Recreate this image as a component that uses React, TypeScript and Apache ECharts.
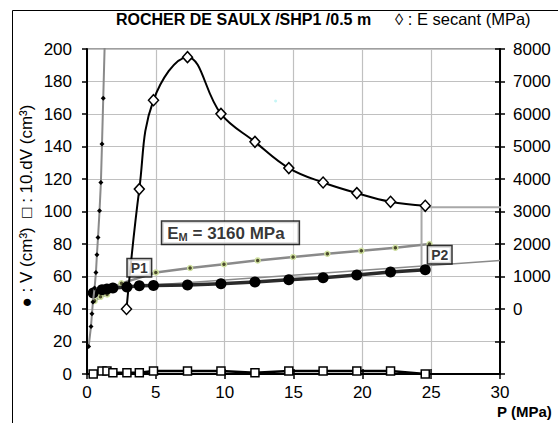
import React, { useEffect, useRef } from "react";
import * as echarts from "echarts";

// ---- data ----
// Pressures (MPa) of the loading stages
const P_STAGE = [0.45, 1.09, 1.45, 1.88, 2.9, 3.8, 4.83, 7.3, 9.73, 12.2, 14.66, 17.15, 19.6, 22.05, 24.57];
// V (cm3), filled circles
const V = [49.8, 51.8, 52.3, 52.9, 53.6, 54.3, 54.5, 54.8, 55.5, 56.6, 58.0, 59.2, 60.9, 62.8, 64.1];
// 10.dV (cm3), open squares
const DV = [0, 1.8, 1.8, 0.7, 0.7, 0.7, 1.8, 1.8, 1.8, 0.7, 1.8, 1.8, 1.8, 1.8, 0];
// E secant (MPa), diamonds (right axis)
const P_E = [2.87, 3.8, 4.83, 7.3, 9.73, 12.2, 14.66, 17.15, 19.6, 22.05, 24.57];
const E_SEC = [0, 3690, 6425, 7750, 6004, 5143, 4335, 3892, 3566, 3299, 3176];
// calibration / steep curve (gray line with small black markers)
const P_STEEP = [0.12, 0.29, 0.36, 0.43, 0.55, 0.65, 0.72, 0.8, 0.91, 1.01, 1.09, 1.18, 1.34];
const V_STEEP = [17, 29.3, 37.1, 44.3, 52.9, 62.5, 73.4, 84, 100.4, 117.8, 141.5, 169.7, 220];
// gray line with small green dots
const P_CORR = [0.55, 0.98, 1.46, 1.97, 2.5, 5.0, 7.49, 9.95, 12.4, 14.97, 17.46, 19.93, 22.4, 24.88];
const V_CORR = [45, 47.5, 49, 53.5, 55.8, 62.5, 65.2, 67.6, 69.9, 72, 74, 75.8, 77.7, 80];
// pseudo-elastic fit line from P1 onwards
const P_FIT = [2.9, 30];
const V_FIT = [53.6, 69.9];
// E_M guide lines
const E_M = 3160;
const P_GUIDE = [24.3, 24.3, 30.9];
const V_GUIDE = [65, 102.6, 102.6];
// annotation anchors
const P_LABELS = [10.42, 3.8, 25.62];
const V_LABELS = [86.9, 65.4, 73.4];
const LABEL_TEXTS = ["EM", "P1", "P2"];
// stray point
const P_DOT = [13.7];
const V_DOT = [168];

const X_TICKS = { min: 0, max: 30, interval: 5 };
const YL_TICKS = { min: 0, max: 200, interval: 20 };
const YR_TICKS = { min: -2000, max: 8000, interval: 1000 };

const zip = (a: number[], b: number[]) => a.map((x, i) => [x, b[i]]);

const FONT = 'Arial, "Liberation Sans", sans-serif';

export default function App() {
  const ref = useRef<HTMLDivElement>(null);
  useEffect(() => {
    document.body.style.margin = "0";
    const chart = echarts.init(ref.current!, null, { renderer: "svg" });
    const tickLabel = { color: "#000", fontSize: 17, fontFamily: FONT };
    const option: any = {
      animation: false,
      backgroundColor: "#fff",
      grid: { left: 87, right: 58, top: 49, bottom: 49, show: true, borderColor: "#808080", borderWidth: 1.5, backgroundColor: "transparent" },
      xAxis: [
        {
          type: "value", ...X_TICKS, position: "bottom",
          axisLine: { show: true, onZero: false, lineStyle: { color: "#000", width: 2 } },
          axisTick: { show: true, inside: false, length: 5, lineStyle: { color: "#000", width: 1.5 } },
          axisLabel: { ...tickLabel, margin: 10 },
          splitLine: { show: true, lineStyle: { color: "#c0c0c0", width: 1.2 } },
        },
        {
          type: "value", ...X_TICKS, position: "bottom",
          axisLine: { show: false, onZero: false },
          axisTick: { show: true, inside: true, length: 5, lineStyle: { color: "#000", width: 1.5 } },
          axisLabel: { show: false },
          splitLine: { show: false },
        },
      ],
      yAxis: [
        {
          type: "value", ...YL_TICKS, position: "left",
          axisLine: { show: true, onZero: false, lineStyle: { color: "#000", width: 2 } },
          axisTick: { show: true, inside: false, length: 5, lineStyle: { color: "#000", width: 1.5 } },
          axisLabel: { ...tickLabel, margin: 15 },
          splitLine: { show: true, lineStyle: { color: "#c0c0c0", width: 1.2 } },
        },
        {
          type: "value", ...YR_TICKS, position: "right",
          axisLine: { show: true, onZero: false, lineStyle: { color: "#000", width: 2 } },
          axisTick: { show: true, inside: false, length: 5, lineStyle: { color: "#000", width: 1.5 } },
          axisLabel: { ...tickLabel, margin: 13, formatter: (v: number) => (v < 0 ? "" : String(v)) },
          splitLine: { show: false },
        },
        {
          type: "value", ...YR_TICKS, position: "right",
          axisLine: { show: false, onZero: false },
          axisTick: { show: true, inside: true, length: 5, lineStyle: { color: "#000", width: 1.5 } },
          axisLabel: { show: false },
          splitLine: { show: false },
        },
      ],
      series: [
        {
          name: "fit", type: "line", data: zip(P_FIT, V_FIT), symbol: "none",
          lineStyle: { color: "#8a8a8a", width: 1.5 }, z: 2,
        },
        {
          name: "Vcorr", type: "line", data: zip(P_CORR, V_CORR), symbol: "circle", symbolSize: 5,
          lineStyle: { color: "#8a8a8a", width: 2.5 },
          itemStyle: { color: "#4a4a2a", borderColor: "#cfe0a0", borderWidth: 1.5 }, z: 3,
        },
        {
          name: "V", type: "line", data: zip(P_STAGE, V), symbol: "circle", symbolSize: 11,
          lineStyle: { color: "#2a2a2a", width: 3.5 },
          itemStyle: { color: "#000" }, z: 4,
        },
        {
          name: "steep", type: "line", data: zip(P_STEEP, V_STEEP), symbol: "diamond", symbolSize: 5,
          lineStyle: { color: "#8a8a8a", width: 2 },
          itemStyle: { color: "#000" }, z: 5,
        },
        {
          name: "dV", type: "line", data: zip(P_STAGE, DV), symbol: "rect", symbolSize: 8,
          lineStyle: { color: "#000", width: 2.5 },
          itemStyle: { color: "#fff", borderColor: "#000", borderWidth: 1.5 }, z: 6,
        },
        {
          name: "guide", type: "line", data: zip(P_GUIDE, V_GUIDE), symbol: "none", clip: false,
          lineStyle: { color: "#a8a8a8", width: 2 }, z: 3,
        },
        {
          name: "E", type: "line", yAxisIndex: 1, data: zip(P_E, E_SEC), smooth: 0.4,
          symbol: "diamond", symbolSize: [10, 11],
          lineStyle: { color: "#000", width: 2 },
          itemStyle: { color: "#fff", borderColor: "#000", borderWidth: 1.5 }, z: 7,
        },
        {
          name: "dot", type: "scatter", data: zip(P_DOT, V_DOT), symbolSize: 3,
          itemStyle: { color: "#b8f4f4" }, z: 2,
        },
        {
          name: "labels", type: "scatter", symbolSize: 1, z: 10,
          itemStyle: { color: "transparent" },
          data: P_LABELS.map((x, i) => ({
            value: [x, V_LABELS[i]], name: LABEL_TEXTS[i],
            label: i === 0 ? { padding: [2, 14, 1, 5] } : { padding: [2, 3, 1, 3] },
          })),
          label: {
            show: true, position: "inside",
            backgroundColor: "#fff", borderColor: "#000", borderWidth: 1.5,
            color: "#000", fontFamily: FONT, fontWeight: "bold",
            formatter: (p: any) =>
              p.name === "EM" ? `{a|E}{s|M}{a| = ${E_M} MPa}` : `{b|${p.name}}`,
            rich: {
              a: { fontSize: 17, fontWeight: "bold", fontFamily: FONT, lineHeight: 19, color: "#000" },
              s: { fontSize: 11, fontWeight: "bold", fontFamily: FONT, lineHeight: 11, verticalAlign: "bottom", color: "#000" },
              b: { fontSize: 14, fontWeight: "bold", fontFamily: FONT, lineHeight: 14, color: "#000" },
            },
          },
        },
      ],
      graphic: [
        { type: "line", shape: { x1: 12.5, y1: 10.5, x2: 558, y2: 10.5 }, style: { stroke: "#000", lineWidth: 1 } },
        { type: "line", shape: { x1: 12.5, y1: 10.5, x2: 12.5, y2: 423 }, style: { stroke: "#000", lineWidth: 1 } },
        {
          type: "text", x: 116, y: 19,
          style: { text: "ROCHER DE SAULX /SHP1 /0.5 m", fontSize: 16, fontWeight: "bold", fontFamily: FONT, fill: "#000", verticalAlign: "middle" },
        },
        {
          type: "text", x: 395, y: 19,
          style: { text: "◊ : E secant (MPa)", fontSize: 16.5, fontFamily: FONT, fill: "#000", verticalAlign: "middle" },
        },
        {
          type: "text", x: 26, y: 206, rotation: Math.PI / 2,
          style: { text: "● : V (cm³)  □ : 10.dV (cm³)", fontSize: 17, fontFamily: FONT, fill: "#000", align: "center", verticalAlign: "middle" },
        },
        {
          type: "text", x: 497, y: 411,
          style: { text: "P (MPa)", fontSize: 15, fontWeight: "bold", fontFamily: FONT, fill: "#000", verticalAlign: "middle" },
        },
      ],
    };
    chart.setOption(option);
    return () => chart.dispose();
  }, []);
  return <div ref={ref} style={{ width: 558, height: 423 }} />;
}
